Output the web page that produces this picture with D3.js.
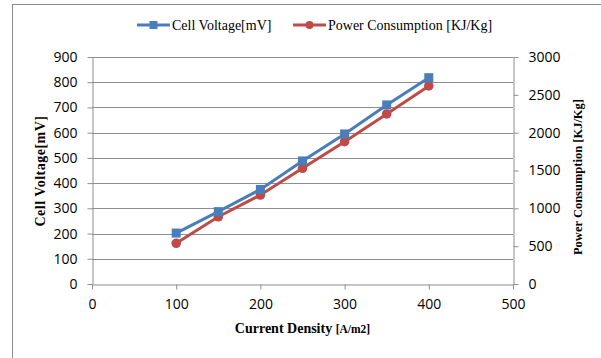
<!DOCTYPE html>
<html>
<head>
<meta charset="utf-8">
<script src="https://cdn.jsdelivr.net/npm/d3@7"></script>
<style>
  body { margin: 0; background: #fff; }
  svg { display: block; }
</style>
</head>
<body>
<svg id="chart" width="601" height="358"></svg>
<script>
const currentDensity = [100, 150, 200, 250, 300, 350, 400];
const cellVoltage = [202, 287, 375, 488, 595, 710, 818];
const powerConsumption = [538, 889, 1176, 1529, 1881, 2247, 2617];
const xTicks = [0, 100, 200, 300, 400, 500];
const leftTicks = [0, 100, 200, 300, 400, 500, 600, 700, 800, 900];
const rightTicks = [0, 500, 1000, 1500, 2000, 2500, 3000];

const svg = d3.select('#chart');
const blue = '#4a7ebb';
const red = '#be4b48';
const grid = '#8e8e8e';
const plotLeft = 92;
const plotRight = 513;
const plotTop = 57;
const plotBottom = 284;

// outer chart frame (runs off the right and bottom edges)
svg.append('rect')
  .attr('x', 12.5).attr('y', 4.5)
  .attr('width', 620).attr('height', 380)
  .attr('fill', 'none').attr('stroke', '#8c8c8c').attr('stroke-width', 1);

const x = d3.scaleLinear().domain([0, 500]).range([plotLeft, plotRight]);
const yL = d3.scaleLinear().domain([0, 900]).range([plotBottom, plotTop]);
const yR = d3.scaleLinear().domain([0, 3000]).range([plotBottom, plotTop]);

// gridlines
svg.append('g')
  .selectAll('line')
  .data(leftTicks.slice(1))
  .enter()
  .append('line')
  .attr('x1', plotLeft).attr('x2', plotRight)
  .attr('y1', d => Math.round(yL(d)) + 0.5)
  .attr('y2', d => Math.round(yL(d)) + 0.5)
  .attr('stroke', grid).attr('stroke-width', 1);

const tickFont = '"Open Sans", sans-serif';
const fmt = d3.format('d');

function styleAxis(g) {
  g.select('.domain').attr('stroke', grid);
  g.selectAll('.tick line').attr('stroke', grid);
  g.selectAll('.tick text')
    .attr('fill', '#000')
    .style('font-family', tickFont)
    .style('font-size', '14px');
}

svg.append('g')
  .attr('transform', `translate(0,${plotBottom + 0.5})`)
  .call(d3.axisBottom(x).tickValues(xTicks).tickFormat(fmt).tickSize(5).tickSizeOuter(0).tickPadding(10))
  .call(styleAxis);

svg.append('g')
  .attr('transform', `translate(${plotLeft + 0.5},0)`)
  .call(d3.axisLeft(yL).tickValues(leftTicks).tickFormat(fmt).tickSize(5).tickSizeOuter(0).tickPadding(10))
  .call(styleAxis);

svg.append('g')
  .attr('transform', `translate(${plotRight + 0.5},0)`)
  .call(d3.axisRight(yR).tickValues(rightTicks).tickFormat(fmt).tickSize(5).tickSizeOuter(0).tickPadding(10))
  .call(styleAxis);

// series lines
const voltLine = d3.line()
  .x((d, i) => x(currentDensity[i]))
  .y(d => yL(d));
const powerLine = d3.line()
  .x((d, i) => x(currentDensity[i]))
  .y(d => yR(d));

svg.append('path')
  .datum(powerConsumption)
  .attr('d', powerLine)
  .attr('fill', 'none').attr('stroke', red).attr('stroke-width', 3);

svg.append('g')
  .selectAll('circle')
  .data(powerConsumption)
  .enter()
  .append('circle')
  .attr('cx', (d, i) => x(currentDensity[i]))
  .attr('cy', d => yR(d))
  .attr('r', 4.8)
  .attr('fill', red);

svg.append('path')
  .datum(cellVoltage)
  .attr('d', voltLine)
  .attr('fill', 'none').attr('stroke', blue).attr('stroke-width', 3);

svg.append('g')
  .selectAll('rect')
  .data(cellVoltage)
  .enter()
  .append('rect')
  .attr('x', (d, i) => x(currentDensity[i]) - 4.5)
  .attr('y', d => yL(d) - 4.5)
  .attr('width', 9).attr('height', 9)
  .attr('fill', blue);

// axis titles
const titleFont = '"Liberation Serif", "Times New Roman", serif';

const xt = svg.append('text')
  .attr('x', (plotLeft + plotRight) / 2).attr('y', 333)
  .attr('text-anchor', 'middle')
  .style('font-family', titleFont).style('font-weight', 'bold');
xt.append('tspan').style('font-size', '14px').text('Current Density ');
xt.append('tspan').style('font-size', '11.5px').text('[A/m2]');

svg.append('text')
  .attr('transform', 'translate(45,171) rotate(-90)')
  .attr('text-anchor', 'middle')
  .style('font-family', titleFont).style('font-weight', 'bold').style('font-size', '14px')
  .style('letter-spacing', '0.5px')
  .text('Cell Voltage[mV]');

svg.append('text')
  .attr('transform', 'translate(582,177) rotate(-90)')
  .attr('text-anchor', 'middle')
  .style('font-family', titleFont).style('font-weight', 'bold').style('font-size', '12.5px')
  .text('Power Consumption [KJ/Kg]');

// legend
const legend = [
  { name: 'Cell Voltage[mV]', color: blue, shape: 'square', x: 137 },
  { name: 'Power Consumption [KJ/Kg]', color: red, shape: 'circle', x: 293 },
];
const ly = 25;
const lg = svg.append('g').selectAll('g')
  .data(legend)
  .enter()
  .append('g')
  .attr('transform', d => `translate(${d.x},${ly})`);

lg.append('line')
  .attr('x1', 0).attr('x2', 33).attr('y1', 0).attr('y2', 0)
  .attr('stroke', d => d.color).attr('stroke-width', 3);
lg.each(function (d) {
  const g = d3.select(this);
  if (d.shape === 'square') {
    g.append('rect').attr('x', 12.5).attr('y', -4).attr('width', 8).attr('height', 8).attr('fill', d.color);
  } else {
    g.append('circle').attr('cx', 16.5).attr('cy', 0).attr('r', 4).attr('fill', d.color);
  }
});
lg.append('text')
  .attr('x', 35).attr('y', 4.5)
  .style('font-family', titleFont).style('font-size', '14px')
  .text(d => d.name);
</script>
</body>
</html>
